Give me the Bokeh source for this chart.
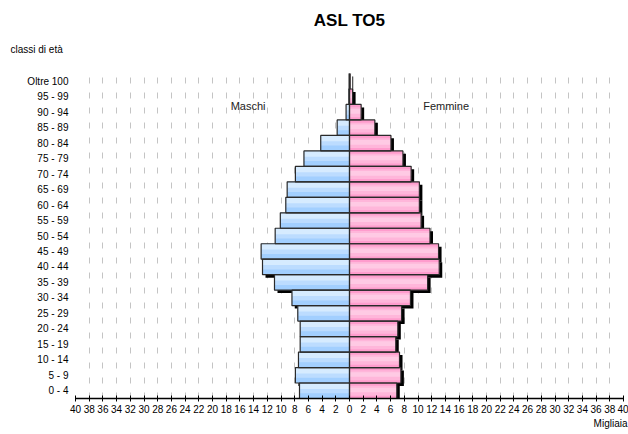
from bokeh.plotting import figure
from bokeh.models import ColumnDataSource, Label, FixedTicker, Dodge, Title
from bokeh.embed import file_html
from bokeh.resources import INLINE

# ---- data (thousands) ----
age_classes = ["0 - 4", "5 - 9", "10 - 14", "15 - 19", "20 - 24", "25 - 29", "30 - 34",
               "35 - 39", "40 - 44", "45 - 49", "50 - 54", "55 - 59", "60 - 64", "65 - 69",
               "70 - 74", "75 - 79", "80 - 84", "85 - 89", "90 - 94", "95 - 99", "Oltre 100"]
maschi = [7.3, 7.9, 7.45, 7.2, 7.2, 7.55, 8.4, 10.95, 12.7, 12.9, 10.85,
          10.1, 9.3, 9.1, 7.9, 6.65, 4.2, 1.8, 0.5, 0.1, 0.05]
femmine = [6.9, 7.5, 7.3, 6.75, 7.05, 7.6, 8.9, 11.4, 13.1, 13.0, 11.75,
           10.45, 10.2, 10.2, 9.0, 7.8, 6.05, 3.7, 1.7, 0.45, 0.1]
x_ticks = list(range(-40, 41, 2))
x_tick_labels = [str(abs(t)) for t in x_ticks]

FONT = "Liberation Sans"

n = len(age_classes)
ypos = [i + 0.5 for i in range(n)]

src_m = ColumnDataSource(dict(y=ypos, left=[-v for v in maschi], right=[0.0] * n))
src_f = ColumnDataSource(dict(y=ypos, left=[0.0] * n, right=femmine))

p = figure(width=628, height=434, output_backend="svg", toolbar_location=None,
           x_range=(-40, 40), y_range=(0, n), min_border=0,
           title="ASL TO5")
p.min_border_left = 75
p.min_border_right = 5
p.min_border_top = 73
p.min_border_bottom = 36
p.outline_line_color = None
p.background_fill_color = "white"
p.border_fill_color = "white"

p.title.align = "center"
p.title.offset = -2
p.title.text_font = FONT
p.title.text_font_style = "bold"
p.title.text_font_size = "17px"
p.title.text_color = "black"
p.title.standoff = 16

# spacer between plot area and the "classi di età" caption
p.add_layout(Title(text=" ", standoff=12, text_font=FONT, text_font_size="1px",
                   text_color="white"), "above")
p.add_layout(Title(text="classi di età", align="left", offset=-65, standoff=8,
                   text_font=FONT, text_font_size="10px", text_font_style="normal",
                   text_color="black"), "above")
p.add_layout(Title(text="Migliaia", align="right", offset=-4, standoff=0,
                   text_font=FONT, text_font_size="10px", text_font_style="normal",
                   text_color="black"), "below")

# shadows
for src in (src_m, src_f):
    p.hbar(y={"field": "y", "transform": Dodge(value=-0.19)},
           left={"field": "left", "transform": Dodge(value=0.44)},
           right={"field": "right", "transform": Dodge(value=0.44)},
           height=1.0, source=src, fill_color="black", line_color=None)

# male bars: light on top, darker at bottom
p.hbar(y="y", left="left", right="right", height=1.0, source=src_m,
       fill_color="#a2cfff", line_color=None)
p.hbar(y={"field": "y", "transform": Dodge(value=0.17)}, left="left", right="right",
       height=0.66, source=src_m, fill_color="#bcdcff", line_color=None)
p.hbar(y={"field": "y", "transform": Dodge(value=0.3)}, left="left", right="right",
       height=0.36, source=src_m, fill_color="#d6ebff", line_color=None)

# female bars: darker edges, lighter middle
p.hbar(y="y", left="left", right="right", height=1.0, source=src_f,
       fill_color="#ff9ccd", line_color=None)
p.hbar(y="y", left="left", right="right", height=0.64, source=src_f,
       fill_color="#ffb6da", line_color=None)
p.hbar(y={"field": "y", "transform": Dodge(value=0.05)}, left="left", right="right",
       height=0.3, source=src_f, fill_color="#ffcae4", line_color=None)

# outlines
for src in (src_m, src_f):
    p.hbar(y="y", left="left", right="right", height=1.0, source=src,
           fill_alpha=0, line_color="#2a2a2a", line_width=1.2)

# grid
p.ygrid.grid_line_color = None
p.xgrid.ticker = FixedTicker(ticks=x_ticks)
p.xgrid.grid_line_color = "#c4c4c4"
p.xgrid.grid_line_dash = "6 9"
p.xgrid.grid_line_width = 1
p.xgrid.level = "underlay"

# x axis
xa = p.xaxis[0]
xa.ticker = FixedTicker(ticks=x_ticks)
xa.major_label_overrides = {t: lab for t, lab in zip(x_ticks, x_tick_labels)}
xa.axis_line_color = "black"
xa.axis_line_width = 1.5
xa.major_tick_line_color = "black"
xa.major_tick_in = 3
xa.major_tick_out = 3
xa.minor_tick_line_color = None
xa.major_label_standoff = 3
xa.major_label_text_font = FONT
xa.major_label_text_font_size = "10px"
xa.major_label_text_color = "black"

# y axis
ya = p.yaxis[0]
ya.ticker = FixedTicker(ticks=ypos)
ya.major_label_overrides = {y: lab for y, lab in zip(ypos, age_classes)}
ya.axis_line_color = None
ya.major_tick_line_color = None
ya.minor_tick_line_color = None
ya.major_tick_in = 0
ya.major_tick_out = 0
ya.major_label_standoff = 7
ya.major_label_text_font = FONT
ya.major_label_text_font_size = "10px"
ya.major_label_text_color = "black"

p.add_layout(Label(x=-14.8, y=18.87, text="Maschi", text_align="center",
                   text_baseline="middle", text_font=FONT, text_font_size="11px",
                   text_color="#222222"))
p.add_layout(Label(x=14.1, y=18.87, text="Femmine", text_align="center",
                   text_baseline="middle", text_font=FONT, text_font_size="11px",
                   text_color="#222222"))

open("out.html", "w").write(file_html(p, INLINE))
